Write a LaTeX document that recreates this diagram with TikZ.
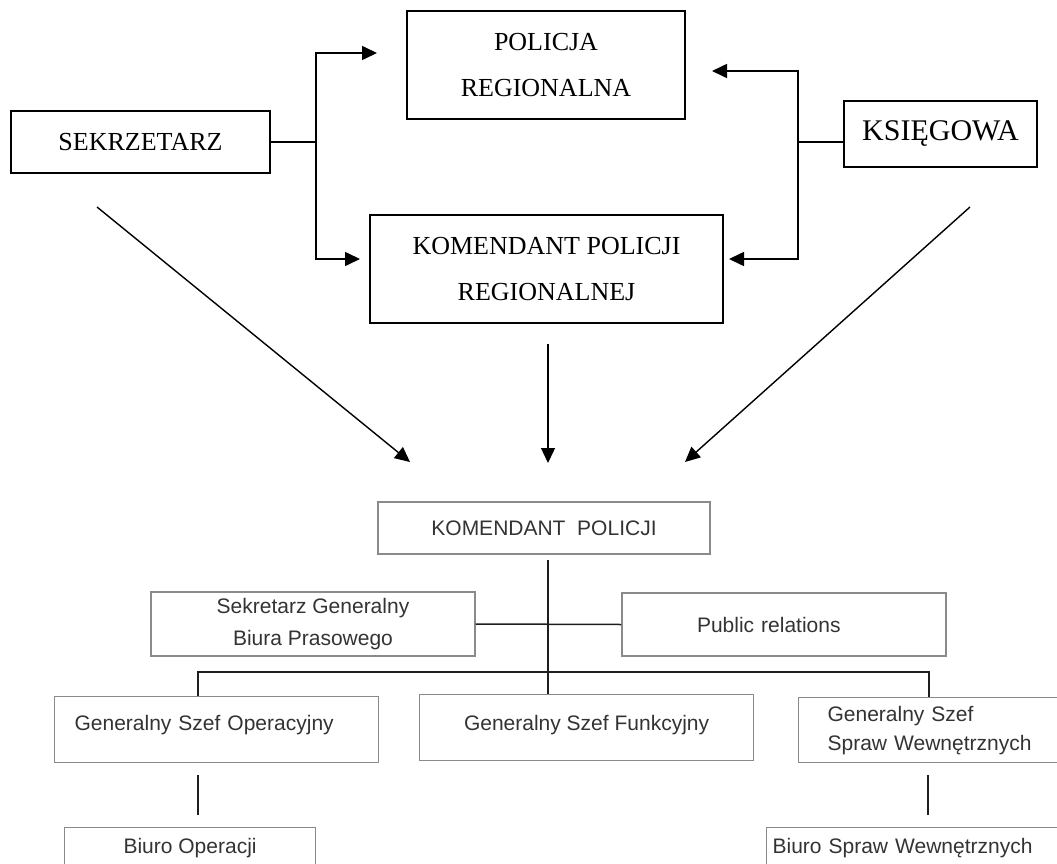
\documentclass[tikz,border=0pt]{standalone}
\usepackage{fontspec}
\setmainfont{Liberation Serif}
\newfontfamily\arialfam{Liberation Sans}
\usetikzlibrary{arrows.meta}

\definecolor{boxgray}{HTML}{8A8A8A}
\definecolor{inkgray}{HTML}{333333}
\definecolor{linegray}{HTML}{1E1E1E}

\tikzset{
  topbox/.style={draw=black, line width=1.5pt, inner sep=0pt, align=center,
    font=\fontsize{26}{46}\selectfont},
  lowbox/.style={draw=boxgray, line width=1.2pt, inner sep=0pt, text=inkgray,
    font=\arialfam\fontsize{21}{30}\selectfont},
  toplink/.style={line width=1.6pt, draw=black},
  toparrow/.style={toplink, -{Triangle[length=15pt,width=14pt]}},
  lowlink/.style={line width=1.5pt, draw=linegray},
}

\begin{document}
\begin{tikzpicture}[x=1pt,y=-1pt]
\useasboundingbox (0,0) rectangle (1057,864);
\clip (0,0) rectangle (1057,864);

% ---------------- upper level ----------------
\node[topbox, minimum width=278, minimum height=108] (pol) at (546,65) {POLICJA\\REGIONALNA};
\node[topbox, minimum width=259, minimum height=62] (sek) at (140.5,142) {SEKRZETARZ};
\node[topbox, minimum width=353, minimum height=108] (kpr) at (546.5,269) {KOMENDANT POLICJI\\REGIONALNEJ};
\node[topbox, minimum width=193, minimum height=66, font=\fontsize{30}{36}\selectfont] (ksi) at (940.5,134) {KSIĘGOWA};

% branching from SEKRZETARZ
\coordinate (sj) at (316,142);
\coordinate (spol) at (377,53);
\coordinate (skpr) at (360,259);
\draw[toplink] (sek.east) -- (sj);
\draw[toparrow] (sj) |- (spol);
\draw[toparrow] (sj) |- (skpr);

% branching from KSIĘGOWA
\coordinate (kj) at (798,142);
\coordinate (kpol) at (712,71);
\coordinate (kkpr) at (729,259);
\draw[toplink] (ksi.west |- kj) -- (kj);
\draw[toparrow] (kj) |- (kpol);
\draw[toparrow] (kj) |- (kkpr);

% ---------------- lower level ----------------
\node[lowbox, minimum width=332, minimum height=52] (kp) at (544,528) {KOMENDANT\ \ POLICJI};

\node[lowbox, minimum width=324, minimum height=64, align=center, font=\arialfam\fontsize{21}{32}\selectfont]
  (sg) at (313,624) {Sekretarz Generalny\\Biura Prasowego};
\node[lowbox, minimum width=324, minimum height=63, inner xsep=75pt, text width=174pt, align=left]
  (pr) at (784,624.5) {Public relations};

\node[lowbox, anchor=north west, inner xsep=20pt, text width=284pt, align=left,
  text height=34pt, text depth=32pt] (gso) at (54,696) {Generalny Szef Operacyjny};
\node[lowbox, anchor=north west, minimum width=334, align=center,
  text height=36pt, text depth=30pt] (gsf) at (419,694) {Generalny Szef Funkcyjny};
\node[lowbox, anchor=north west, minimum height=65, inner xsep=29pt, text width=262pt, align=left,
  font=\arialfam\fontsize{21}{29}\selectfont] (gss) at (798,697) {Generalny Szef\\Spraw Wewnętrznych};

\node[lowbox, anchor=north west, minimum width=251, align=center,
  text height=26pt, text depth=40pt] (bo) at (64,827) {Biuro Operacji};
\node[lowbox, anchor=north west, inner xsep=6pt, text width=330pt, align=left,
  text height=26pt, text depth=40pt] (bs) at (766,827) {Biuro Spraw Wewnętrznych};

% arrows converging on KOMENDANT POLICJI
\coordinate (d1s) at (97,207);
\coordinate (d1t) at (410,462);
\coordinate (d2s) at (970,207);
\coordinate (d2t) at (685,462);
\coordinate (d3s) at (548,344);
\coordinate (d3t) at (548,463);
\draw[toparrow, line width=1.4pt] (d1s) -- (d1t);
\draw[toparrow, line width=1.4pt] (d2s) -- (d2t);
\draw[toparrow, line width=1.4pt] (d3s) -- (d3t);

% lower connectors
\coordinate (spine) at (548,560);
\coordinate (b1) at (198,672);
\coordinate (b2) at (929,672);
\draw[lowlink] (spine) -- (spine |- gsf.north);
\draw[lowlink] (sg.east) -- (pr.west);
\draw[lowlink] (b1 |- gso.north) -- (b1) -- (b2) -- (b2 |- gss.north);

\coordinate (v1a) at (198,775);
\coordinate (v1b) at (198,815);
\coordinate (v2a) at (928,775);
\coordinate (v2b) at (928,815);
\draw[lowlink] (v1a) -- (v1b);
\draw[lowlink] (v2a) -- (v2b);
\end{tikzpicture}
\end{document}
